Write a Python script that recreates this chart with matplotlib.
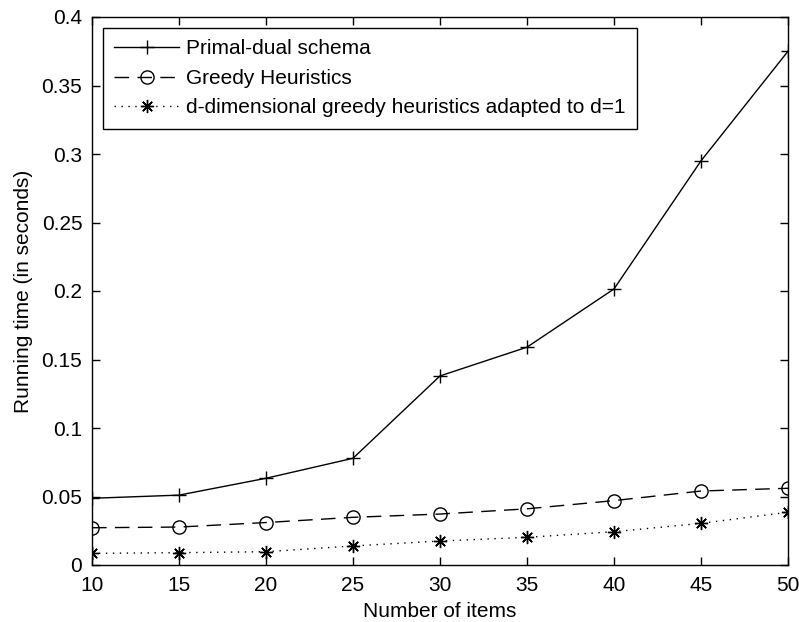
import matplotlib
matplotlib.use("Agg")
import matplotlib.pyplot as plt

# values
items = [10, 15, 20, 25, 30, 35, 40, 45, 50]
primal_dual = [0.0487, 0.051, 0.0633, 0.0779, 0.138, 0.159, 0.2015, 0.295, 0.375]
greedy = [0.0272, 0.0277, 0.031, 0.0348, 0.0372, 0.041, 0.047, 0.054, 0.056]
d_dim_greedy = [0.0085, 0.009, 0.0097, 0.0139, 0.0175, 0.0202, 0.0243, 0.0304, 0.0385]

x_ticks = [10, 15, 20, 25, 30, 35, 40, 45, 50]
y_ticks = [0, 0.05, 0.1, 0.15, 0.2, 0.25, 0.3, 0.35, 0.4]
y_tick_labels = ['0', '0.05', '0.1', '0.15', '0.2', '0.25', '0.3', '0.35', '0.4']

plt.rcParams['font.family'] = ['Liberation Sans', 'DejaVu Sans']
plt.rcParams['font.size'] = 15

fig = plt.figure(figsize=(7.99, 6.22), dpi=100)
ax = fig.add_axes([92 / 799, 1 - 565 / 622, 696 / 799, 548 / 622])

ax.plot(items, primal_dual, color='black', linewidth=1.0, linestyle='-',
        marker='+', markersize=9.5, markeredgewidth=1.0, label='Primal-dual schema')
ax.plot(items, greedy, color='black', linewidth=1.0, linestyle=(0, (10.5, 6)),
        marker='o', markersize=9.5, markerfacecolor='none', markeredgewidth=1.0,
        label='Greedy Heuristics')
# MATLAB-style '*' marker: eight thin arms
ax.plot(items, d_dim_greedy, color='black', linewidth=1.0, linestyle=(0, (1, 4)),
        marker=(8, 2, 0), markersize=9.5, markeredgewidth=1.0,
        label='d-dimensional greedy heuristics adapted to d=1')

ax.set_xlim(10, 50)
ax.set_ylim(0, 0.4)
ax.set_xticks(x_ticks)
ax.set_yticks(y_ticks)
ax.set_yticklabels(y_tick_labels)
ax.tick_params(axis='both', direction='in', top=True, right=True, length=6, width=1.0)
ax.tick_params(axis='x', pad=8)
ax.tick_params(axis='y', pad=7)
for spine in ax.spines.values():
    spine.set_linewidth(1.0)

ax.set_xlabel('Number of items', labelpad=5)
ax.set_ylabel('Running time (in seconds)', labelpad=6)

leg = ax.legend(loc='upper left', bbox_to_anchor=(11 / 696, 1 - 11 / 548),
                borderaxespad=0, fancybox=False, edgecolor='black', framealpha=1,
                handlelength=3.1, handletextpad=0.35, labelspacing=0.5,
                borderpad=0.55)
leg.get_frame().set_linewidth(1.0)

plt.savefig('out.png', dpi=100)
